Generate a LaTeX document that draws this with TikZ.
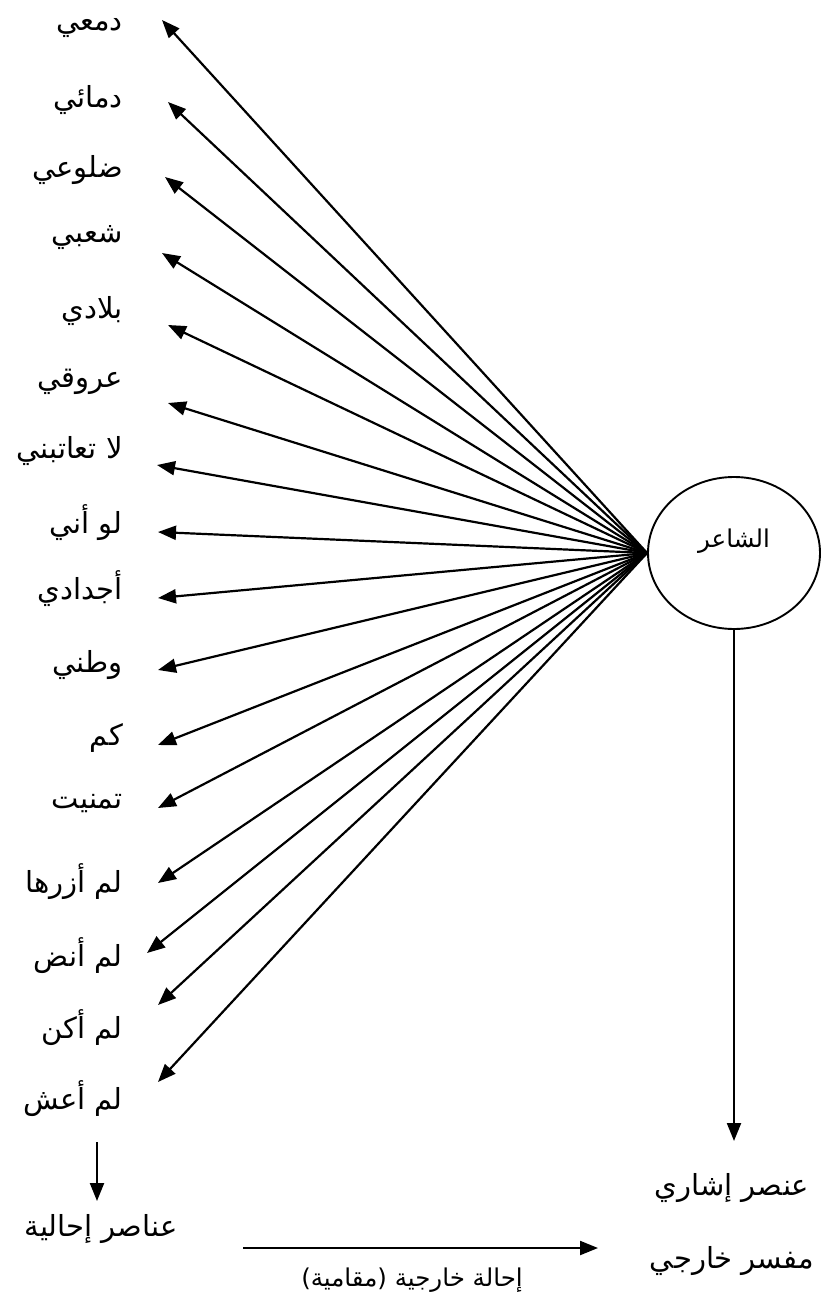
\documentclass[tikz,border=0pt]{standalone}
\usepackage{fontspec}
\newfontfamily\arabicfont[Script=Arabic]{DejaVu Sans}
\TeXXeTstate=1
\usetikzlibrary{arrows.meta,shapes.geometric}
\tikzset{
  lbl/.style={font=\arabicfont\fontsize{29}{32}\selectfont, inner sep=0pt, anchor=east},
  lblc/.style={font=\arabicfont\fontsize{29}{32}\selectfont, inner sep=0pt, anchor=center},
  small/.style={font=\arabicfont\fontsize{24.5}{28}\selectfont},
  arr/.style={line width=2.2pt, -{Triangle[length=18pt,width=14pt]}},
}
\begin{document}
\begin{tikzpicture}[x=1pt,y=-1pt]
\useasboundingbox (0,0) rectangle (822,1297);
\node[draw, line width=1.9pt, ellipse, minimum width=172pt, minimum height=152pt, inner sep=0pt] (ell) at (734,553) {};
\node[lblc, small] (sh) at (734,541) {\beginR الشاعر\endR};
% labels
\node[lbl] (l1) at (123,28) {\beginR دمعي\endR};
\node[lbl] (l2) at (123,100) {\beginR دمائي\endR};
\node[lbl] (l3) at (123,170) {\beginR ضلوعي\endR};
\node[lbl] (l4) at (123,238) {\beginR شعبي\endR};
\node[lbl] (l5) at (123,311) {\beginR بلادي\endR};
\node[lbl] (l6) at (123,382) {\beginR عروقي\endR};
\node[lbl] (l7) at (123,451) {\beginR لا تعاتبني\endR};
\node[lbl] (l8) at (123,523) {\beginR لو أني\endR};
\node[lbl] (l9) at (123,589) {\beginR أجدادي\endR};
\node[lbl] (l10) at (123,665) {\beginR وطني\endR};
\node[lbl] (l11) at (123,738) {\beginR كم\endR};
\node[lbl] (l12) at (123,804) {\beginR تمنيت\endR};
\node[lbl] (l13) at (123,882) {\beginR لم أزرها\endR};
\node[lbl] (l14) at (123,956) {\beginR لم أنض\endR};
\node[lbl] (l15) at (123,1028) {\beginR لم أكن\endR};
\node[lbl] (l16) at (123,1099) {\beginR لم أعش\endR};
% arrow tips
\coordinate (t1) at (162,20);
\coordinate (t2) at (168,102);
\coordinate (t3) at (165,177);
\coordinate (t4) at (162,253);
\coordinate (t5) at (168,325);
\coordinate (t6) at (168,403);
\coordinate (t7) at (157,465);
\coordinate (t8) at (158,532);
\coordinate (t9) at (158,598);
\coordinate (t10) at (158,670);
\coordinate (t11) at (158,745);
\coordinate (t12) at (158,808);
\coordinate (t13) at (158,883);
\coordinate (t14) at (147,953);
\coordinate (t15) at (158,1005);
\coordinate (t16) at (158,1082);
\foreach \i in {1,...,16} {\draw[arr] (ell.west) -- (t\i);}
% bottom
\node[lblc] (ref) at (101,1229) {\beginR عناصر إحالية\endR};
\coordinate (d1) at (97,1142);
\coordinate (d2) at (97,1201);
\draw[arr] (d1) -- (d2);
\node[lblc] (ish) at (732,1188) {\beginR عنصر إشاري\endR};
\node[lblc] (mf) at (732,1261) {\beginR مفسر خارجي\endR};
\coordinate (v2) at (ell.south |- 0,1141);
\draw[arr] (ell.south) -- (v2);
\coordinate (h1) at (243,1248);
\coordinate (h2) at (598,1248);
\draw[arr] (h1) -- (h2);
\node[lblc, small] (hl) at (412,1280) {\beginR إحالة خارجية (مقامية)\endR};
\end{tikzpicture}
\end{document}
